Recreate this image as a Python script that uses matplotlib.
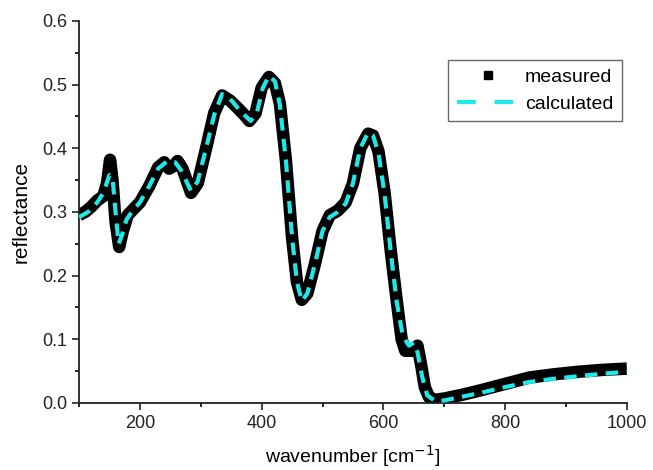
import matplotlib
matplotlib.use("Agg")
import matplotlib.pyplot as plt
from matplotlib.lines import Line2D
from matplotlib.ticker import MultipleLocator, FormatStrFormatter

plt.rcParams["font.family"] = ["Liberation Sans", "DejaVu Sans"]

# measured spectrum
wn_meas = [100, 110, 120, 130, 140, 146, 151, 155, 160, 166, 172, 180, 190, 200,
           215, 230, 240, 248, 255, 262, 270, 284, 295, 310, 322, 335, 348,
           362, 372, 380, 390, 400, 412, 422, 430, 440, 450, 458, 466, 475,
           488, 500, 512, 525, 538, 550, 562, 575, 583, 592, 602, 612, 622,
           630, 636, 648, 656, 662, 668, 675, 685, 700, 730, 760, 800, 840,
           880, 920, 960, 1000]
refl_meas = [0.295, 0.300, 0.308, 0.318, 0.325, 0.345, 0.382, 0.350, 0.285, 0.245,
             0.270, 0.295, 0.305, 0.315, 0.340, 0.370, 0.378, 0.368, 0.372, 0.380,
             0.368, 0.330, 0.345, 0.405, 0.455, 0.483, 0.475, 0.462, 0.452, 0.443,
             0.455, 0.495, 0.512, 0.502, 0.470, 0.380, 0.260, 0.190, 0.162, 0.172,
             0.220, 0.270, 0.295, 0.302, 0.315, 0.345, 0.400, 0.423, 0.420, 0.395,
             0.330, 0.240, 0.160, 0.100, 0.082, 0.082, 0.090, 0.060, 0.025, 0.009,
             0.005, 0.007, 0.013, 0.020, 0.030, 0.040, 0.045, 0.049, 0.052, 0.054]

# calculated spectrum
wn_calc = [100, 115, 130, 140, 150, 155, 160, 165, 170, 178, 188, 200, 215, 230,
           245, 258, 268, 284, 295, 310, 322, 335, 348, 362, 372, 382, 392, 402,
           412, 422, 430, 440, 450, 458, 466, 475, 488, 500, 512, 525, 538, 550,
           562, 575, 583, 592, 602, 612, 622, 632, 642, 650, 656, 664, 672, 685,
           700, 730, 760, 800, 840, 880, 920, 960, 1000]
refl_calc = [0.292, 0.300, 0.315, 0.330, 0.358, 0.355, 0.300, 0.250, 0.262, 0.288,
             0.302, 0.315, 0.340, 0.368, 0.380, 0.378, 0.365, 0.333, 0.348, 0.405,
             0.452, 0.485, 0.478, 0.462, 0.452, 0.443, 0.455, 0.495, 0.514, 0.505,
             0.468, 0.380, 0.260, 0.190, 0.160, 0.172, 0.220, 0.270, 0.292, 0.300,
             0.313, 0.345, 0.400, 0.425, 0.420, 0.392, 0.328, 0.238, 0.158, 0.105,
             0.090, 0.095, 0.080, 0.040, 0.012, 0.003, 0.004, 0.010, 0.016, 0.025,
             0.033, 0.038, 0.042, 0.046, 0.049]

fig = plt.figure(figsize=(6.53, 4.70), dpi=100)
ax = fig.add_axes([0.121, 0.1426, 0.839, 0.8128])

ax.plot(wn_meas, refl_meas, color="black", linewidth=9, solid_joinstyle="round",
        solid_capstyle="butt", zorder=2)
ax.plot(wn_calc, refl_calc, color="#1ee8e8", linewidth=3, dashes=(3, 2),
        zorder=3)

ax.set_xlim(100, 1000)
ax.set_ylim(0.0, 0.6)
ax.xaxis.set_major_locator(MultipleLocator(200))
ax.xaxis.set_minor_locator(MultipleLocator(100))
ax.yaxis.set_major_locator(MultipleLocator(0.1))
ax.yaxis.set_minor_locator(MultipleLocator(0.05))
ax.yaxis.set_major_formatter(FormatStrFormatter("%.1f"))
ax.tick_params(which="major", direction="out", length=5, width=1.2, labelsize=13,
               colors="#222222")
ax.tick_params(which="minor", direction="out", length=3, width=1.2)
ax.spines["top"].set_visible(False)
ax.spines["right"].set_visible(False)
for s in ("left", "bottom"):
    ax.spines[s].set_linewidth(1.3)
    ax.spines[s].set_color("#222222")

ax.set_xlabel("wavenumber [cm$^{-1}$]", fontsize=14, labelpad=8)
ax.set_ylabel("reflectance", fontsize=15, labelpad=8)

handles = [Line2D([], [], color="black", marker="s", markersize=6, linestyle="none"),
           Line2D([], [], color="#1ee8e8", linewidth=3, dashes=(4.5, 4.5))]
leg = ax.legend(handles, ["measured", "calculated"], loc="upper right",
                bbox_to_anchor=(0.991, 0.898), fontsize=14, frameon=True,
                fancybox=False, handlelength=3.2, handletextpad=0.3,
                borderpad=0.45, borderaxespad=0, labelspacing=0.45)
leg.get_frame().set_edgecolor("#444444")
leg.get_frame().set_linewidth(1.0)

fig.savefig("out.png", dpi=100)
